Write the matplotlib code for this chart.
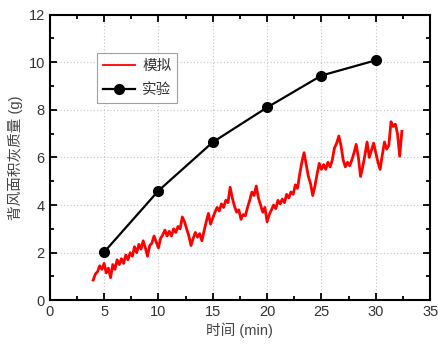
import numpy as np
import matplotlib
matplotlib.use("Agg")
import matplotlib.pyplot as plt
from matplotlib.ticker import MultipleLocator

plt.rcParams['font.family'] = ['Liberation Sans', 'Noto Sans CJK SC']

# experiment points
exp_t = [5, 10, 15, 20, 25, 30]
exp_m = [2.02, 4.6, 6.64, 8.1, 9.44, 10.08]

# simulation trace, sampled every 0.2 min starting at 4.0 min
sim_t0 = 4.0
sim_dt = 0.2
sim_m = [
    0.85, 1.1, 1.2, 1.45, 1.3, 1.55, 1.15, 1.35, 0.95, 1.5,
    1.3, 1.7, 1.5, 1.75, 1.55, 1.9, 1.7, 2.0, 1.85, 2.25,
    2.0, 2.35, 2.15, 2.5, 2.2, 1.85, 2.3, 2.4, 2.7, 2.45,
    2.2, 2.6, 2.75, 2.95, 2.7, 2.9, 2.7, 3.0, 2.85, 3.1,
    3.0, 3.5, 3.3, 3.0, 2.7, 2.3, 2.6, 2.85, 2.65, 2.8,
    2.5, 2.9, 3.3, 3.65, 3.2, 3.45, 3.7, 3.9, 3.75, 4.05,
    3.9, 4.2, 4.1, 4.75, 4.3, 3.95, 3.7, 3.8, 3.4, 3.6,
    3.55, 3.9, 4.2, 4.55, 4.4, 4.8, 4.3, 4.0, 3.7, 3.9,
    3.3, 3.6, 3.8, 4.0, 3.85, 4.2, 4.05, 4.25, 4.1, 4.45,
    4.3, 4.55, 4.45, 4.85, 4.7, 5.3, 5.8, 6.2, 5.7, 5.2,
    4.9, 4.4, 4.8, 5.3, 5.75, 5.5, 5.7, 5.5, 5.8, 5.6,
    5.9, 6.4, 6.6, 6.9, 6.5, 5.9, 5.6, 5.8, 5.65, 5.9,
    6.2, 6.55, 6.0, 5.2, 5.6, 6.1, 6.65, 6.0, 6.3, 6.6,
    6.2, 5.8, 5.5, 6.1, 6.65, 6.35, 6.5, 7.5, 7.3, 7.4,
    7.0, 6.05, 7.1,
]
sim_t = sim_t0 + sim_dt * np.arange(len(sim_m))

fig = plt.figure(figsize=(4.38, 3.45), dpi=100)
ax = fig.add_axes([0.1135, 0.1296, 0.8685, 0.8281])

ax.plot(sim_t, sim_m, color='#ff0000', lw=2.0, label='模拟', zorder=3)
ax.plot(exp_t, exp_m, color='black', lw=1.6, marker='o', ms=7, label='实验', zorder=4)

ax.set_xlim(0, 35)
ax.set_ylim(0, 12)
ax.xaxis.set_major_locator(MultipleLocator(5))
ax.xaxis.set_minor_locator(MultipleLocator(2.5))
ax.yaxis.set_major_locator(MultipleLocator(2))
ax.yaxis.set_minor_locator(MultipleLocator(1))
ax.tick_params(which='both', direction='in', top=True, right=True, width=1.3,
               labelsize=10.5, labelcolor='#333333')
ax.tick_params(which='major', length=5)
ax.tick_params(which='minor', length=3)
for sp in ax.spines.values():
    sp.set_linewidth(1.5)
ax.grid(True, which='major', linestyle=(0, (1, 2)), color='#c4c4c4', lw=0.8)

ax.set_xlabel('时间 (min)', fontsize=10.5, color='#444444', labelpad=2)
ax.set_ylabel('背风面积灰质量 (g)', fontsize=10.5, color='#444444', labelpad=4)

leg = ax.legend(loc='upper left', bbox_to_anchor=(0.105, 0.89), fontsize=10.5,
                frameon=True, fancybox=False, edgecolor='#888888',
                handlelength=2.2, handletextpad=0.5, borderpad=0.4, labelspacing=0.7)
leg.get_frame().set_linewidth(0.8)
leg.get_lines()[0].set_linewidth(1.3)
for t in leg.get_texts():
    t.set_color('#333333')

fig.savefig('out.png', dpi=100)
